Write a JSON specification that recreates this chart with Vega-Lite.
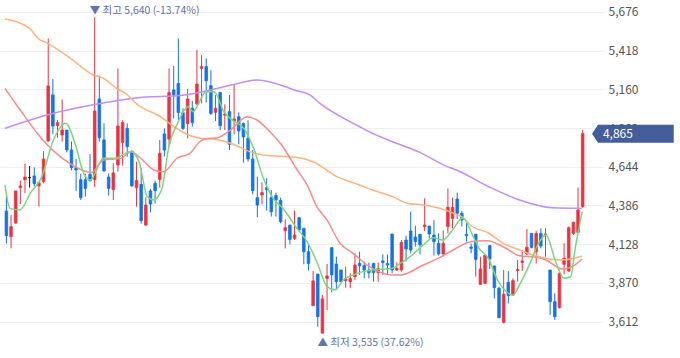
{
  "$schema": "https://vega.github.io/schema/vega-lite/v6.json",
  "width": 603,
  "height": 358,
  "autosize": "none",
  "padding": {"left": 0, "top": 0, "right": 77, "bottom": 0},
  "background": "white",
  "config": {"view": {"stroke": null}},
  "datasets": {
    "candles": [
      {"i":0,"o":4349,"h":4456,"l":4132,"c":4185},
      {"i":1,"o":4178,"h":4323,"l":4100,"c":4245},
      {"i":2,"o":4269,"h":4483,"l":4265,"c":4483},
      {"i":3,"o":4505,"h":4552,"l":4396,"c":4516},
      {"i":4,"o":4558,"h":4665,"l":4469,"c":4576},
      {"i":5,"o":4572,"h":4649,"l":4505,"c":4572},
      {"i":6,"o":4583,"h":4640,"l":4514,"c":4532},
      {"i":7,"o":4516,"h":4538,"l":4380,"c":4538},
      {"i":8,"o":4545,"h":4749,"l":4534,"c":4696},
      {"i":9,"o":4816,"h":5500,"l":4812,"c":5183},
      {"i":10,"o":5123,"h":5229,"l":4860,"c":4916},
      {"i":11,"o":4918,"h":4956,"l":4838,"c":4938},
      {"i":12,"o":4856,"h":5092,"l":4812,"c":4889},
      {"i":13,"o":4889,"h":4889,"l":4740,"c":4756},
      {"i":14,"o":4756,"h":4812,"l":4620,"c":4638},
      {"i":15,"o":4638,"h":4696,"l":4483,"c":4623},
      {"i":16,"o":4558,"h":4598,"l":4423,"c":4438},
      {"i":17,"o":4558,"h":4598,"l":4445,"c":4500},
      {"i":18,"o":4594,"h":4729,"l":4545,"c":4552},
      {"i":19,"o":4558,"h":5640,"l":4509,"c":5016},
      {"i":20,"o":5096,"h":5252,"l":4812,"c":4838},
      {"i":21,"o":4823,"h":4934,"l":4612,"c":4616},
      {"i":22,"o":4576,"h":4600,"l":4452,"c":4500},
      {"i":23,"o":4492,"h":4667,"l":4423,"c":4603},
      {"i":24,"o":4656,"h":5300,"l":4612,"c":4916},
      {"i":25,"o":4807,"h":4954,"l":4652,"c":4940},
      {"i":26,"o":4900,"h":4934,"l":4712,"c":4778},
      {"i":27,"o":4749,"h":4749,"l":4512,"c":4516},
      {"i":28,"o":4505,"h":4678,"l":4378,"c":4552},
      {"i":29,"o":4527,"h":4634,"l":4265,"c":4285},
      {"i":30,"o":4256,"h":4440,"l":4249,"c":4389},
      {"i":31,"o":4483,"h":4496,"l":4340,"c":4396},
      {"i":32,"o":4534,"h":4552,"l":4400,"c":4485},
      {"i":33,"o":4560,"h":4823,"l":4505,"c":4734},
      {"i":34,"o":4863,"h":4900,"l":4712,"c":4756},
      {"i":35,"o":4829,"h":5300,"l":4778,"c":5140},
      {"i":36,"o":5156,"h":5316,"l":4967,"c":5123},
      {"i":37,"o":5200,"h":5500,"l":4956,"c":5005},
      {"i":38,"o":5005,"h":5034,"l":4889,"c":4900},
      {"i":39,"o":4932,"h":5163,"l":4834,"c":5096},
      {"i":40,"o":5034,"h":5083,"l":4912,"c":4938},
      {"i":41,"o":5063,"h":5423,"l":5056,"c":5196},
      {"i":42,"o":5300,"h":5389,"l":5067,"c":5312},
      {"i":43,"o":5312,"h":5367,"l":5074,"c":5218},
      {"i":44,"o":5185,"h":5289,"l":4989,"c":5000},
      {"i":45,"o":5007,"h":5123,"l":4949,"c":5034},
      {"i":46,"o":5140,"h":5140,"l":4889,"c":4918},
      {"i":47,"o":4989,"h":5060,"l":4889,"c":4996},
      {"i":48,"o":5012,"h":5123,"l":4756,"c":4794},
      {"i":49,"o":4949,"h":5189,"l":4860,"c":4963},
      {"i":50,"o":4978,"h":5007,"l":4794,"c":4883},
      {"i":51,"o":4932,"h":4940,"l":4672,"c":4843},
      {"i":52,"o":4834,"h":4954,"l":4678,"c":4696},
      {"i":53,"o":4696,"h":4756,"l":4460,"c":4485},
      {"i":54,"o":4438,"h":4578,"l":4307,"c":4389},
      {"i":55,"o":4456,"h":4540,"l":4394,"c":4472},
      {"i":56,"o":4505,"h":4567,"l":4352,"c":4492},
      {"i":57,"o":4438,"h":4489,"l":4312,"c":4345},
      {"i":58,"o":4452,"h":4472,"l":4312,"c":4423},
      {"i":59,"o":4420,"h":4438,"l":4267,"c":4278},
      {"i":60,"o":4218,"h":4294,"l":4100,"c":4238},
      {"i":61,"o":4256,"h":4256,"l":4127,"c":4160},
      {"i":62,"o":4167,"h":4352,"l":4156,"c":4189},
      {"i":63,"o":4305,"h":4305,"l":4212,"c":4223},
      {"i":64,"o":4234,"h":4234,"l":3994,"c":4078},
      {"i":65,"o":4078,"h":4134,"l":3952,"c":4000},
      {"i":66,"o":3718,"h":3949,"l":3718,"c":3883},
      {"i":67,"o":3929,"h":3929,"l":3578,"c":3645},
      {"i":68,"o":3535,"h":3789,"l":3535,"c":3763},
      {"i":69,"o":3900,"h":3996,"l":3689,"c":3916},
      {"i":70,"o":4105,"h":4105,"l":3807,"c":3923},
      {"i":71,"o":3996,"h":4045,"l":3823,"c":3878},
      {"i":72,"o":3956,"h":3956,"l":3874,"c":3878},
      {"i":73,"o":3885,"h":3978,"l":3838,"c":3896},
      {"i":74,"o":3878,"h":3934,"l":3834,"c":3900},
      {"i":75,"o":3912,"h":4067,"l":3889,"c":3989},
      {"i":76,"o":4000,"h":4078,"l":3923,"c":3985},
      {"i":77,"o":3985,"h":4012,"l":3900,"c":3956},
      {"i":78,"o":3956,"h":4005,"l":3900,"c":3938},
      {"i":79,"o":4000,"h":4000,"l":3878,"c":3938},
      {"i":80,"o":3938,"h":4007,"l":3878,"c":3967},
      {"i":81,"o":4016,"h":4060,"l":3923,"c":4005},
      {"i":82,"o":4000,"h":4060,"l":3927,"c":3989},
      {"i":83,"o":4196,"h":4196,"l":3934,"c":3956},
      {"i":84,"o":3956,"h":4007,"l":3949,"c":3967},
      {"i":85,"o":3956,"h":4156,"l":3945,"c":4140},
      {"i":86,"o":4156,"h":4185,"l":4012,"c":4096},
      {"i":87,"o":4216,"h":4345,"l":4067,"c":4089},
      {"i":88,"o":4176,"h":4252,"l":4112,"c":4145},
      {"i":89,"o":4194,"h":4194,"l":4060,"c":4123},
      {"i":90,"o":4245,"h":4434,"l":4216,"c":4256},
      {"i":91,"o":4249,"h":4249,"l":4167,"c":4196},
      {"i":92,"o":4189,"h":4289,"l":4052,"c":4145},
      {"i":93,"o":4134,"h":4200,"l":4052,"c":4063},
      {"i":94,"o":4063,"h":4220,"l":4056,"c":4134},
      {"i":95,"o":4245,"h":4500,"l":4200,"c":4374},
      {"i":96,"o":4300,"h":4438,"l":4234,"c":4374},
      {"i":97,"o":4429,"h":4472,"l":4296,"c":4334},
      {"i":98,"o":4334,"h":4349,"l":4245,"c":4289},
      {"i":99,"o":4194,"h":4272,"l":4145,"c":4185},
      {"i":100,"o":4109,"h":4132,"l":4067,"c":4100},
      {"i":101,"o":4194,"h":4194,"l":3912,"c":4027},
      {"i":102,"o":3860,"h":4045,"l":3860,"c":3963},
      {"i":103,"o":3867,"h":4056,"l":3867,"c":4056},
      {"i":104,"o":4118,"h":4123,"l":3963,"c":4029},
      {"i":105,"o":3983,"h":3983,"l":3767,"c":3838},
      {"i":106,"o":3834,"h":3845,"l":3634,"c":3638},
      {"i":107,"o":3607,"h":3956,"l":3600,"c":3794},
      {"i":108,"o":3874,"h":3949,"l":3734,"c":3785},
      {"i":109,"o":3789,"h":3900,"l":3785,"c":3885},
      {"i":110,"o":3952,"h":4023,"l":3878,"c":3960},
      {"i":111,"o":4007,"h":4089,"l":3949,"c":4016},
      {"i":112,"o":4063,"h":4229,"l":4056,"c":4107},
      {"i":113,"o":4200,"h":4200,"l":4100,"c":4107},
      {"i":114,"o":4078,"h":4216,"l":4000,"c":4200},
      {"i":115,"o":4200,"h":4234,"l":4100,"c":4116},
      {"i":116,"o":4185,"h":4234,"l":4045,"c":4196},
      {"i":117,"o":3956,"h":3956,"l":3656,"c":3745},
      {"i":118,"o":3745,"h":3800,"l":3623,"c":3645},
      {"i":119,"o":3705,"h":3940,"l":3700,"c":3934},
      {"i":120,"o":3994,"h":4134,"l":3927,"c":4034},
      {"i":121,"o":3949,"h":4245,"l":3945,"c":4238},
      {"i":122,"o":4200,"h":4278,"l":4189,"c":4274},
      {"i":123,"o":4207,"h":4507,"l":4205,"c":4356},
      {"i":124,"o":4378,"h":4889,"l":4372,"c":4865}
    ],
    "ma": [
      {"s":"ma120","i":-0.3,"v":4901},{"s":"ma120","i":10.3,"v":5003},{"s":"ma120","i":17.3,"v":5050},{"s":"ma120","i":20.9,"v":5070},{"s":"ma120","i":27.8,"v":5103},{"s":"ma120","i":38.4,"v":5123},{"s":"ma120","i":46.3,"v":5174},{"s":"ma120","i":48.4,"v":5189},{"s":"ma120","i":54.0,"v":5223},{"s":"ma120","i":60.4,"v":5174},{"s":"ma120","i":61.9,"v":5156},{"s":"ma120","i":65.3,"v":5123},{"s":"ma120","i":67.4,"v":5069},{"s":"ma120","i":76.0,"v":4911},{"s":"ma120","i":78.0,"v":4878},{"s":"ma120","i":83.1,"v":4811},{"s":"ma120","i":88.6,"v":4745},{"s":"ma120","i":94.9,"v":4645},{"s":"ma120","i":96.8,"v":4623},{"s":"ma120","i":103.8,"v":4511},{"s":"ma120","i":110.4,"v":4423},{"s":"ma120","i":117.5,"v":4371},{"s":"ma120","i":123.9,"v":4367},
      {"s":"ma60","i":-0.3,"v":5629},{"s":"ma60","i":5.0,"v":5567},{"s":"ma60","i":6.75,"v":5501},{"s":"ma60","i":8.9,"v":5467},{"s":"ma60","i":13.8,"v":5367},{"s":"ma60","i":18.7,"v":5256},{"s":"ma60","i":20.9,"v":5234},{"s":"ma60","i":23.6,"v":5169},{"s":"ma60","i":26.1,"v":5123},{"s":"ma60","i":27.8,"v":5069},{"s":"ma60","i":33.6,"v":4969},{"s":"ma60","i":34.6,"v":4945},{"s":"ma60","i":39.2,"v":4856},{"s":"ma60","i":41.6,"v":4834},{"s":"ma60","i":44.8,"v":4827},{"s":"ma60","i":48.2,"v":4801},{"s":"ma60","i":53.2,"v":4736},{"s":"ma60","i":55.3,"v":4723},{"s":"ma60","i":60.4,"v":4711},{"s":"ma60","i":62.3,"v":4707},{"s":"ma60","i":66.1,"v":4676},{"s":"ma60","i":71.1,"v":4578},{"s":"ma60","i":76.0,"v":4523},{"s":"ma60","i":78.8,"v":4489},{"s":"ma60","i":83.1,"v":4445},{"s":"ma60","i":86.2,"v":4401},{"s":"ma60","i":89.7,"v":4389},{"s":"ma60","i":93.2,"v":4367},{"s":"ma60","i":96.8,"v":4327},{"s":"ma60","i":98.1,"v":4309},{"s":"ma60","i":99.8,"v":4256},{"s":"ma60","i":103.8,"v":4201},{"s":"ma60","i":106.9,"v":4134},{"s":"ma60","i":110.8,"v":4085},{"s":"ma60","i":114.0,"v":4049},{"s":"ma60","i":119.6,"v":4023},{"s":"ma60","i":123.9,"v":4049},
      {"s":"ma20","i":-0.3,"v":5167},{"s":"ma20","i":3.23,"v":5011},{"s":"ma20","i":6.75,"v":4863},{"s":"ma20","i":10.3,"v":4745},{"s":"ma20","i":13.8,"v":4663},{"s":"ma20","i":18.3,"v":4606},{"s":"ma20","i":20.9,"v":4689},{"s":"ma20","i":24.7,"v":4701},{"s":"ma20","i":26.8,"v":4745},{"s":"ma20","i":28.9,"v":4701},{"s":"ma20","i":31.7,"v":4623},{"s":"ma20","i":33.8,"v":4611},{"s":"ma20","i":36.7,"v":4701},{"s":"ma20","i":39.5,"v":4734},{"s":"ma20","i":41.6,"v":4811},{"s":"ma20","i":42.9,"v":4829},{"s":"ma20","i":45.4,"v":4838},{"s":"ma20","i":48.2,"v":4889},{"s":"ma20","i":51.8,"v":4978},{"s":"ma20","i":53.9,"v":4956},{"s":"ma20","i":56.7,"v":4878},{"s":"ma20","i":59.5,"v":4778},{"s":"ma20","i":62.3,"v":4636},{"s":"ma20","i":64.7,"v":4523},{"s":"ma20","i":66.8,"v":4378},{"s":"ma20","i":69.0,"v":4289},{"s":"ma20","i":71.8,"v":4134},{"s":"ma20","i":74.6,"v":4067},{"s":"ma20","i":78.1,"v":3978},{"s":"ma20","i":83.1,"v":3923},{"s":"ma20","i":84.8,"v":3923},{"s":"ma20","i":89.7,"v":3989},{"s":"ma20","i":93.2,"v":4038},{"s":"ma20","i":96.8,"v":4101},{"s":"ma20","i":99.9,"v":4145},{"s":"ma20","i":103.4,"v":4151},{"s":"ma20","i":106.9,"v":4111},{"s":"ma20","i":110.4,"v":4051},{"s":"ma20","i":114.0,"v":4041},{"s":"ma20","i":116.1,"v":4023},{"s":"ma20","i":119.6,"v":3963},{"s":"ma20","i":121.7,"v":3978},{"s":"ma20","i":123.9,"v":4029},
      {"s":"ma5","i":-0.3,"v":4523},{"s":"ma5","i":0.76,"v":4367},{"s":"ma5","i":2.87,"v":4356},{"s":"ma5","i":5.35,"v":4478},{"s":"ma5","i":7.47,"v":4567},{"s":"ma5","i":10.28,"v":4834},{"s":"ma5","i":12.76,"v":4934},{"s":"ma5","i":14.87,"v":4789},{"s":"ma5","i":16.63,"v":4601},{"s":"ma5","i":18.05,"v":4556},{"s":"ma5","i":20.86,"v":4701},{"s":"ma5","i":23.25,"v":4701},{"s":"ma5","i":26.79,"v":4745},{"s":"ma5","i":28.54,"v":4678},{"s":"ma5","i":30.32,"v":4445},{"s":"ma5","i":31.72,"v":4423},{"s":"ma5","i":33.49,"v":4501},{"s":"ma5","i":34.89,"v":4767},{"s":"ma5","i":37.0,"v":4945},{"s":"ma5","i":39.12,"v":5045},{"s":"ma5","i":40.18,"v":5011},{"s":"ma5","i":41.2,"v":5056},{"s":"ma5","i":42.9,"v":5145},{"s":"ma5","i":44.7,"v":5145},{"s":"ma5","i":46.8,"v":5011},{"s":"ma5","i":48.9,"v":4949},{"s":"ma5","i":51.1,"v":4900},{"s":"ma5","i":53.2,"v":4767},{"s":"ma5","i":55.3,"v":4567},{"s":"ma5","i":57.4,"v":4434},{"s":"ma5","i":59.5,"v":4367},{"s":"ma5","i":62.3,"v":4243},{"s":"ma5","i":64.7,"v":4145},{"s":"ma5","i":66.8,"v":4011},{"s":"ma5","i":69.0,"v":3845},{"s":"ma5","i":70.7,"v":3823},{"s":"ma5","i":72.5,"v":3889},{"s":"ma5","i":74.6,"v":3923},{"s":"ma5","i":76.7,"v":3945},{"s":"ma5","i":78.8,"v":3956},{"s":"ma5","i":83.1,"v":3967},{"s":"ma5","i":84.8,"v":4001},{"s":"ma5","i":86.9,"v":4045},{"s":"ma5","i":89.7,"v":4123},{"s":"ma5","i":91.8,"v":4171},{"s":"ma5","i":93.9,"v":4156},{"s":"ma5","i":96.0,"v":4223},{"s":"ma5","i":98.2,"v":4305},{"s":"ma5","i":100.3,"v":4189},{"s":"ma5","i":101.7,"v":4101},{"s":"ma5","i":103.8,"v":4029},{"s":"ma5","i":105.5,"v":3901},{"s":"ma5","i":107.6,"v":3811},{"s":"ma5","i":109.0,"v":3789},{"s":"ma5","i":110.4,"v":3856},{"s":"ma5","i":112.5,"v":3989},{"s":"ma5","i":114.7,"v":4145},{"s":"ma5","i":116.1,"v":4189},{"s":"ma5","i":118.2,"v":4011},{"s":"ma5","i":120.0,"v":3901},{"s":"ma5","i":121.4,"v":3911},{"s":"ma5","i":122.4,"v":4101},{"s":"ma5","i":123.9,"v":4345}
    ]
  },
  "layer": [
    {
      "data": {"name": "candles"},
      "mark": {"type": "rule", "strokeWidth": 1},
      "encoding": {
        "x": {"field": "i", "type": "quantitative", "scale": {"domain": [-0.3, 127.3], "nice": false, "zero": false}, "axis": null},
        "y": {"field": "l", "type": "quantitative", "scale": {"domain": [3369.3, 5756], "nice": false, "zero": false},
          "axis": {"orient": "right", "title": null, "values": [3612, 3870, 4128, 4386, 4644, 4902, 5160, 5418, 5676], "format": ",.0f", "ticks": false, "tickSize": 0, "domain": false, "grid": true, "gridColor": "#eceef2", "gridWidth": 1, "labelFont": "Noto Sans CJK KR", "labelFontSize": 12, "labelColor": "#555555", "labelPadding": 5, "zindex": 0}},
        "y2": {"field": "h"},
        "color": {"condition": [{"test": "datum.c > datum.o", "value": "#eb3340"}, {"test": "datum.c < datum.o", "value": "#1473e6"}], "value": "#111111"}
      }
    },
    {
      "data": {"name": "candles"},
      "mark": {"type": "bar", "size": 2.6, "strokeWidth": 0.8},
      "encoding": {
        "x": {"field": "i", "type": "quantitative", "scale": {"domain": [-0.3, 127.3], "nice": false, "zero": false}, "axis": null},
        "y": {"field": "o", "type": "quantitative", "scale": {"domain": [3369.3, 5756], "nice": false, "zero": false}},
        "y2": {"field": "c"},
        "color": {"condition": [{"test": "datum.c > datum.o", "value": "#eb3340"}, {"test": "datum.c < datum.o", "value": "#1473e6"}], "value": "#111111"},
        "stroke": {"condition": [{"test": "datum.c > datum.o", "value": "#eb3340"}, {"test": "datum.c < datum.o", "value": "#1473e6"}], "value": "#111111"}
      }
    },
    {
      "data": {"name": "ma"},
      "mark": {"type": "line", "strokeWidth": 1.5, "interpolate": "monotone"},
      "encoding": {
        "x": {"field": "i", "type": "quantitative", "scale": {"domain": [-0.3, 127.3], "nice": false, "zero": false}, "axis": null},
        "y": {"field": "v", "type": "quantitative", "scale": {"domain": [3369.3, 5756], "nice": false, "zero": false}},
        "color": {"field": "s", "type": "nominal", "scale": {"domain": ["ma120", "ma60", "ma20", "ma5"], "range": ["#c28cfa", "#ffb37c", "#fb8a8a", "#7bd67b"]}, "legend": null},
        "order": {"field": "i", "type": "quantitative"}
      }
    },
    {
      "data": {"values": [{"i": 19, "v": 5640, "t": "▼ 최고 5,640 (-13.74%)"}]},
      "mark": {"type": "text", "align": "left", "baseline": "middle", "dx": -5, "dy": -6, "font": "Noto Sans CJK KR", "fontSize": 10.5, "color": "#6275aa"},
      "encoding": {
        "x": {"field": "i", "type": "quantitative", "scale": {"domain": [-0.3, 127.3], "nice": false, "zero": false}, "axis": null},
        "y": {"field": "v", "type": "quantitative", "scale": {"domain": [3369.3, 5756], "nice": false, "zero": false}},
        "text": {"field": "t"}
      }
    },
    {
      "data": {"values": [{"i": 68, "v": 3535, "t": "▲ 최저 3,535 (37.62%)"}]},
      "mark": {"type": "text", "align": "left", "baseline": "middle", "dx": -5, "dy": 10, "font": "Noto Sans CJK KR", "fontSize": 10.5, "color": "#6275aa"},
      "encoding": {
        "x": {"field": "i", "type": "quantitative", "scale": {"domain": [-0.3, 127.3], "nice": false, "zero": false}, "axis": null},
        "y": {"field": "v", "type": "quantitative", "scale": {"domain": [3369.3, 5756], "nice": false, "zero": false}},
        "text": {"field": "t"}
      }
    },
    {
      "data": {"values": [{"i1": 127.3, "i2": 143.6, "top": 4925, "bottom": 4805}]},
      "mark": {"type": "rect", "color": "#435e9b"},
      "encoding": {
        "x": {"field": "i1", "type": "quantitative", "scale": {"domain": [-0.3, 127.3], "nice": false, "zero": false}, "axis": null},
        "x2": {"field": "i2"},
        "y": {"field": "top", "type": "quantitative", "scale": {"domain": [3369.3, 5756], "nice": false, "zero": false}},
        "y2": {"field": "bottom"}
      }
    },
    {
      "data": {"values": [{"i": 127.3, "v": 4865}]},
      "mark": {"type": "point", "shape": "M0,-1L-0.667,0L0,1Z", "size": 324, "filled": true, "opacity": 1, "color": "#435e9b", "strokeWidth": 0},
      "encoding": {
        "x": {"field": "i", "type": "quantitative", "scale": {"domain": [-0.3, 127.3], "nice": false, "zero": false}, "axis": null},
        "y": {"field": "v", "type": "quantitative", "scale": {"domain": [3369.3, 5756], "nice": false, "zero": false}}
      }
    },
    {
      "data": {"values": [{"i": 128.36, "v": 4865, "t": "4,865"}]},
      "mark": {"type": "text", "align": "left", "baseline": "middle", "font": "Noto Sans CJK KR", "fontSize": 12, "color": "#ffffff"},
      "encoding": {
        "x": {"field": "i", "type": "quantitative", "scale": {"domain": [-0.3, 127.3], "nice": false, "zero": false}, "axis": null},
        "y": {"field": "v", "type": "quantitative", "scale": {"domain": [3369.3, 5756], "nice": false, "zero": false}},
        "text": {"field": "t"}
      }
    }
  ]
}
